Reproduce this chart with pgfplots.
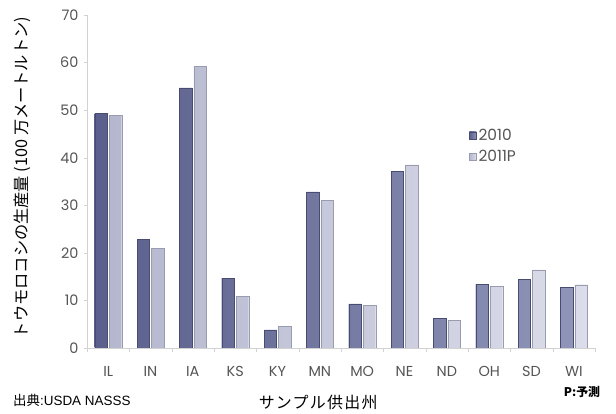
\documentclass[border=0pt]{standalone}
\usepackage{pgfplots}
\pgfplotsset{compat=1.18}
\usepackage{fontspec}
\setmainfont{Poppins}
\newfontfamily\jp{Noto Sans CJK JP}
\newfontfamily\jpsp[LetterSpace=8]{Noto Sans CJK JP}
\newfontfamily\arial{Liberation Sans}
\definecolor{ddark}{HTML}{5A5F8C}
\definecolor{dlight}{HTML}{8F94B8}
\definecolor{ldark}{HTML}{B4B7CE}
\definecolor{llight}{HTML}{DCDDEA}
\definecolor{axgray}{HTML}{D2D2D2}
\definecolor{txtgray}{HTML}{555555}
\pgfplotstableread{
x v2010 v2011
0 49.3 48.9
1 22.9 21.0
2 54.7 59.2
3 14.7 10.9
4 3.8 4.5
5 32.8 31.0
6 9.3 9.0
7 37.2 38.5
8 6.3 5.8
9 13.4 12.9
10 14.4 16.4
11 12.7 13.3
}\datatable
\begin{document}
\begin{tikzpicture}[x=1bp,y=1bp]
\path (0,0) rectangle (616,408);
\begin{axis}[
  at={(87bp,60bp)}, anchor=south west,
  scale only axis, width=508bp, height=333bp,
  ymin=0, ymax=70, xmin=-0.5, xmax=11.5,
  ybar, bar width=12.5bp,
  axis x line*=bottom, axis y line*=left,
  axis line style={draw=axgray, -},
  ytick={0,10,...,70},
  xtick={0,...,11},
  xticklabels={IL,IN,IA,KS,KY,MN,MO,NE,ND,OH,SD,WI},
  major x tick style={draw=none},
  minor xtick={-0.5,0.5,...,11.5},
  minor x tick style={draw=axgray},
  major y tick style={draw=axgray},
  tick align=outside,
  major tick length=3bp, minor tick length=4bp,
  tick label style={font=\fontsize{14.5}{16}\selectfont, text=txtgray},
  /pgf/number format/assume math mode=true,
  yticklabel style={xshift=-2bp},
  xticklabel style={yshift=-12bp},
  ylabel={\jp トウモロコシの生産量 (100 万メートルトン)},
  ylabel style={at={(axis description cs:-0.128,0.512)}, anchor=center, font=\fontsize{16.3}{18}\selectfont, text=black},
  xlabel={\jpsp サンプル供出州},
  xlabel style={at={(axis description cs:0.455,-0.165)}, anchor=center, font=\fontsize{16}{18}\selectfont, text=black},
  legend style={at={(0.752,0.665)}, anchor=north west, draw=none, fill=none,
    font=\fontsize{15.5}{17}\selectfont, text=txtgray, row sep=5bp, inner sep=0pt},
  legend cell align=left,
  legend image code/.code={\fill[#1] (0bp,-3.5bp) rectangle (7bp,3.5bp);},
]
\addplot[left color=ddark, right color=dlight, draw=ddark!80!black, line width=0.3bp] table[x=x,y=v2010]{\datatable};
\addplot[left color=ldark, right color=llight, draw=ldark!85!black, line width=0.3bp] table[x=x,y=v2011]{\datatable};
\legend{2010,2011P}
\end{axis}
\node[anchor=west, inner sep=0pt, font=\fontsize{13.5}{15}\selectfont] at (13,8) {{\jp 出典}{\arial :USDA NASSS}};
\node[anchor=center, font=\fontsize{12}{14}\selectfont\jp\bfseries] at (582,16) {P:予測};
\end{tikzpicture}
\end{document}
